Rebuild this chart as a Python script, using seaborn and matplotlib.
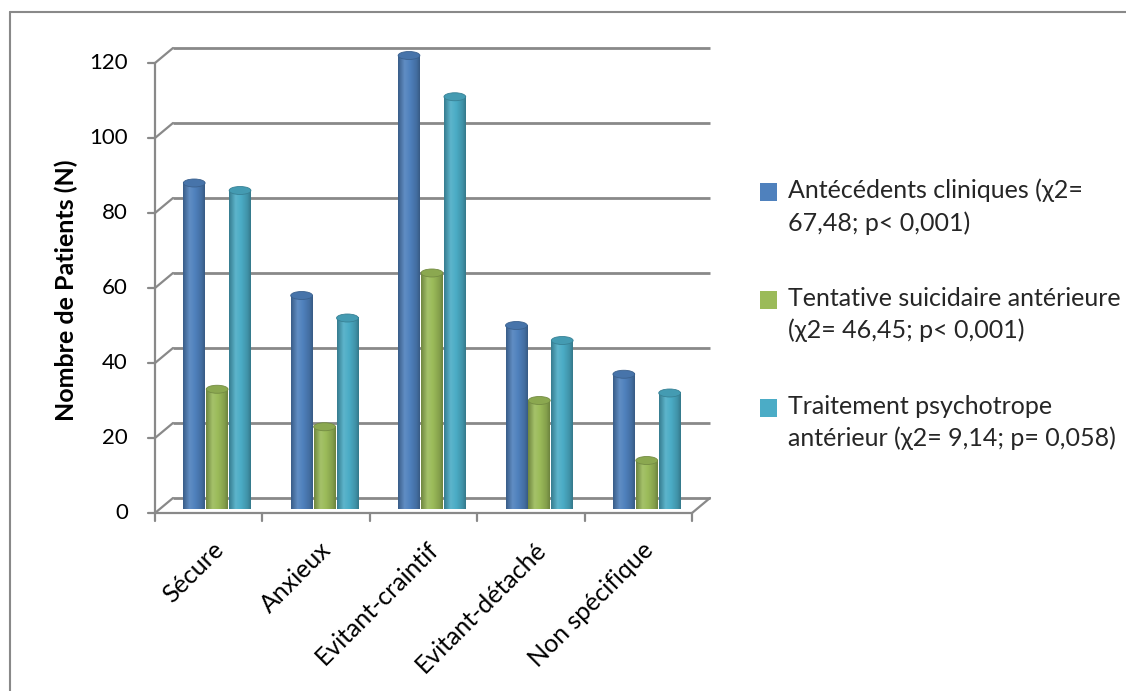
import numpy as np
import pandas as pd
import matplotlib
matplotlib.use("Agg")
import matplotlib.pyplot as plt
from matplotlib.patches import Polygon, Ellipse, Patch, Rectangle
from matplotlib.lines import Line2D
from matplotlib.legend_handler import HandlerPatch
from matplotlib.colors import LinearSegmentedColormap, to_rgb
import seaborn as sns

# ---------------- data ----------------
categories = ["Sécure", "Anxieux", "Evitant-craintif", "Evitant-détaché", "Non spécifique"]
antecedents = [86, 56, 120, 48, 35]
tentative = [31, 21, 62, 28, 12]
traitement = [84, 50, 109, 44, 30]
series_labels = [
    "Antécédents cliniques (χ2=\n67,48; p< 0,001)",
    "Tentative suicidaire antérieure\n(χ2= 46,45; p< 0,001)",
    "Traitement psychotrope\nantérieur (χ2= 9,14; p= 0,058)",
]
colors = ["#4F81BD", "#9BBB59", "#4BACC6"]
y_ticks = [0, 20, 40, 60, 80, 100, 120]
y_label = "Nombre de Patients (N)"

# ---------------- style ----------------
sns.set_theme(style="white")
FONT = ["Lato", "DejaVu Sans"]
plt.rcParams["font.family"] = FONT
GRAY = "#898989"

W, H = 1126, 691
fig = plt.figure(figsize=(W / 100, H / 100), dpi=100)
fig.patch.set_facecolor("white")

# front plane of the 3D box (pixels): x 155..692, y 513 (0) .. 63 (120)
ax = fig.add_axes([155 / W, (H - 513) / H, (692 - 155) / W, 450 / H])

df = pd.DataFrame({
    "cat": categories * 3,
    "val": antecedents + tentative + traitement,
    "serie": [series_labels[0]] * 5 + [series_labels[1]] * 5 + [series_labels[2]] * 5,
})
sns.barplot(data=df, x="cat", y="val", hue="serie", hue_order=series_labels,
            palette=colors, width=0.64, gap=0.0, saturation=1, ax=ax,
            legend=False, errorbar=None)

ax.set_xlim(-0.5, 4.5)
ax.set_ylim(0, 120)
ax.set_facecolor("none")
for s in ax.spines.values():
    s.set_visible(False)
ax.set_xlabel("")
ax.set_ylabel("")
ax.set_xticks([])
ax.set_yticks([])

# conversion pixels -> data units
ppx = ax.bbox.width / 5.0
ppy = ax.bbox.height / 120.0
bdx, bdy = 18 / ppx, 15 / ppy       # back wall offset
mdx, mdy = 9 / ppx, 7.5 / ppy       # mid depth offset (bars)

# back wall gridlines + diagonals + tick marks
for v in y_ticks:
    ax.plot([-0.5 + bdx, 4.5 + bdx], [v + bdy, v + bdy], color=GRAY, lw=2,
            zorder=1, clip_on=False, solid_capstyle="butt")
    ax.plot([-0.5, -0.5 + bdx], [v, v + bdy], color=GRAY, lw=1.6,
            zorder=1, clip_on=False)
    ax.plot([-0.5 - 7 / ppx, -0.5], [v, v], color=GRAY, lw=1.6,
            zorder=1, clip_on=False)
    ax.text(-0.5 - 27 / ppx, v, str(v), ha="right", va="center",
            fontsize=16, color="black", family=FONT, clip_on=False)

# front y axis and front floor edge, right floor diagonal
ax.plot([-0.5, -0.5], [0, 120], color=GRAY, lw=1.6, zorder=1, clip_on=False)
ax.plot([-0.5, 4.5], [0, 0], color=GRAY, lw=1.6, zorder=1, clip_on=False)
ax.plot([4.5, 4.5 + bdx], [0, bdy], color=GRAY, lw=1.6, zorder=1, clip_on=False)
for b in np.arange(-0.5, 5.0, 1.0):
    ax.plot([b, b], [0, -8 / ppy], color=GRAY, lw=1.6, zorder=1, clip_on=False)

# category labels
for i, c in enumerate(categories):
    ax.text(i + 11 / ppx, -33 / ppy, c, rotation=45, ha="right", va="center",
            rotation_mode="anchor", fontsize=18, color="black", family=FONT,
            clip_on=False)

# y label
fig.text(66 / W, 1 - 290 / H, y_label, rotation=90, ha="center", va="center",
         fontsize=18, fontweight="bold", color="black", family=FONT)


# ---------------- cylinders ----------------
def shade(c, f):
    r = np.array(to_rgb(c))
    if f < 1:
        return tuple(r * f)
    return tuple(r + (1 - r) * (f - 1))


bars = list(ax.patches)
n_cat = len(categories)
cap = 4 / ppy
for k, p in enumerate(bars):
    color = colors[k // n_cat]
    x0, w, h = p.get_x() + mdx, p.get_width() * 0.95, p.get_height()
    base = mdy
    p.set_visible(False)
    cx = x0 + w / 2
    t = np.linspace(0, np.pi, 40)
    bottom = np.column_stack([cx + w / 2 * np.cos(t), base - cap * np.sin(t)])
    verts = np.vstack([bottom, [[x0, base + h], [x0 + w, base + h]]])
    clip = Polygon(verts, closed=True, facecolor="none", edgecolor="none",
                   clip_on=False)
    ax.add_patch(clip)
    cmap = LinearSegmentedColormap.from_list(
        "cyl", [(0.0, shade(color, 0.72)), (0.3, shade(color, 1.1)),
                (0.55, shade(color, 1.0)), (0.85, shade(color, 0.85)),
                (1.0, shade(color, 0.7))])
    im = ax.imshow(np.linspace(0, 1, 64)[None, :], extent=[x0, x0 + w, base - cap, base + h],
                   aspect="auto", cmap=cmap, zorder=3, interpolation="bilinear",
                   clip_on=False)
    im.set_clip_path(clip)
    top = Ellipse((cx, base + h), w, 2 * cap, facecolor=shade(color, 0.9),
                  edgecolor=shade(color, 0.75), lw=0.6, zorder=4, clip_on=False)
    ax.add_patch(top)

ax.set_xlim(-0.5, 4.5)
ax.set_ylim(0, 120)
ax.set_aspect("auto")


# ---------------- legend ----------------
def first_line_square(legend, orig_handle, xdescent, ydescent, width, height, fontsize):
    # square aligned with the first line of the two-line label
    return Rectangle((-xdescent, -ydescent + 0.62 * fontsize), width, height)


handles = [Patch(facecolor=c, edgecolor="none") for c in colors]
leg = fig.legend(handles, series_labels, loc="upper left",
                 bbox_to_anchor=(752 / W, 1 - 171 / H), frameon=False,
                 handlelength=0.7, handleheight=0.7, handletextpad=0.42,
                 labelspacing=2.1, borderaxespad=0, borderpad=0.3,
                 prop={"family": FONT, "size": 18},
                 handler_map={Patch: HandlerPatch(patch_func=first_line_square)})
for txt in leg.get_texts():
    txt.set_linespacing(1.45)

# outer border (left and top visible)
fig.add_artist(Line2D([9.5 / W, 9.5 / W], [0, 1 - 11.5 / H], transform=fig.transFigure,
                      color=GRAY, lw=1.5))
fig.add_artist(Line2D([9.5 / W, 1], [1 - 11.5 / H, 1 - 11.5 / H], transform=fig.transFigure,
                      color=GRAY, lw=1.5))

fig.savefig("out.png", dpi=100, facecolor="white")
